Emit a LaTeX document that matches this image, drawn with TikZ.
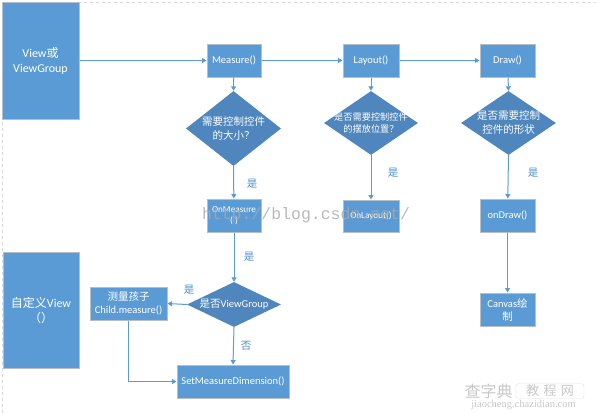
\documentclass[tikz,border=0pt]{standalone}
\usepackage{fontspec}
\setmainfont{Carlito}
\newfontfamily\cjk{Noto Sans CJK SC}
\newfontfamily\wmmono{Liberation Mono}
\newfontfamily\wmserif{Liberation Serif}
\usetikzlibrary{arrows.meta,shapes.geometric}
\newcommand\zh[1]{{\cjk #1}}
\definecolor{boxfill}{HTML}{5B9BD5}
\definecolor{boxline}{HTML}{B6BEC8}
\definecolor{diafill}{HTML}{4E86BD}
\definecolor{flow}{HTML}{5B9BD5}
\definecolor{lbl}{HTML}{4A8FD0}
\definecolor{wmgray}{HTML}{A8A8A8}
\begin{document}
\begin{tikzpicture}[x=1pt,y=-1pt,
  box/.style={draw=boxline, line width=1pt, fill=boxfill, text=white, inner sep=0pt,
    align=center, font=\fontsize{10.5}{13}\selectfont},
  small/.style={font=\fontsize{9.2}{11}\selectfont},
  big/.style={font=\fontsize{12}{15}\selectfont},
  dia/.style={diamond, fill=diafill, inner sep=0pt},
  dtext/.style={text=white, align=center, inner sep=0pt, font=\cjk\fontsize{10.5}{14}\selectfont},
  flowline/.style={draw=flow, line width=1pt, -{Triangle[length=4.5pt,width=5pt]}},
  lab/.style={text=lbl, inner sep=0pt, font=\cjk\fontsize{10.5}{12}\selectfont},
]
\useasboundingbox (0,0) rectangle (596,413);
\draw[black!15, dashed, line width=0.8pt] (2.5,413) -- (2.5,2.5) -- (596,2.5);

% top row
\node[box, big, minimum width=77pt, minimum height=117pt] (vg) at (40.5,60.5) {View\zh{或}\\ViewGroup};
\node[box, minimum width=54pt, minimum height=33pt] (meas) at (234,60.5) {Measure()};
\node[box, minimum width=56pt, minimum height=33pt] (lay) at (371,60.5) {Layout()};
\node[box, minimum width=55pt, minimum height=33pt] (drw) at (507.5,60.5) {Draw()};

% diamonds
\node[dia, minimum width=95pt, minimum height=75pt] (d1) at (233.5,128.5) {};
\node[dtext] (d1t) at (d1) {需要控制控件\\的大小？};
\node[dia, minimum width=94pt, minimum height=64pt] (d2) at (371,123) {};
\node[dtext, font=\cjk\fontsize{9.2}{12.5}\selectfont] (d2t) at (d2) {是否需要控制控件\\的摆放位置？};
\node[dia, minimum width=95pt, minimum height=64pt] (d3) at (508.5,123) {};
\node[dtext] (d3t) at (d3) {是否需要控制\\控件的形状};

% second row
\node[box, small, minimum width=54pt, minimum height=33pt] (onm) at (234,215.5) {OnMeasure\\( )};
\node[box, small, minimum width=56pt, minimum height=32pt] (onl) at (371,216) {OnLayout()};
\node[box, minimum width=55pt, minimum height=33pt] (ond) at (507.5,215.5) {onDraw()};
\node[box, minimum width=55pt, minimum height=33pt] (cv) at (507.5,309.5) {Canvas\zh{绘}\\\zh{制}};

% bottom-left
\node[box, big, minimum width=76pt, minimum height=116pt] (cust) at (41,310) {\zh{自定义}View\\\zh{（）}};
\node[box, minimum width=77pt, minimum height=33pt] (child) at (128.5,303.5) {\zh{测量孩子}\\Child.measure()};
\node[dia, minimum width=94pt, minimum height=45pt] (d4) at (234,304.5) {};
\node[dtext, font=\fontsize{10.5}{14}\selectfont] (d4t) at (d4) {\zh{是否}ViewGroup};
\node[box, minimum width=112pt, minimum height=33pt] (setm) at (233,381.5) {SetMeasureDimension()};

% connectors
\draw[flowline] (vg.east |- meas.west) -- (meas.west);
\draw[flowline] (meas) -- (lay);
\draw[flowline] (lay) -- (drw);
\draw[flowline] (meas) -- (d1.north);
\draw[flowline] (lay) -- (d2.north);
\draw[flowline] (drw) -- (d3.north);
\draw[flowline] (d1.south) -- (onm);
\draw[flowline] (d2.south) -- (onl);
\draw[flowline] (d3.south) -- (ond);
\draw[flowline] (ond) -- (cv);
\draw[flowline] (onm) -- (d4.north);
\draw[flowline] (d4.west) -- (child.east);
\draw[flowline] (d4.south) -- (setm.north);
\draw[flowline] (child.south) |- (setm.west);

% edge labels
\node[lab] (l1) at (252,184) {是};
\node[lab] (l2) at (393,173) {是};
\node[lab] (l3) at (533,173) {是};
\node[lab] (l4) at (249,257) {是};
\node[lab] (l5) at (189,290) {是};
\node[lab] (l6) at (246,346) {否};

% watermarks
\node[text=wmgray, opacity=0.8, inner sep=0pt, font=\wmmono\fontsize{16.5}{18}\selectfont] (wm1) at (306,215) {http://blog.csdn.net/};
\node[text=black!22, inner sep=0pt, font=\cjk\fontsize{16}{18}\selectfont] (wm2) at (488.5,391) {查字典};
\node[draw=black!12, rounded corners=3pt, text=black!22, inner sep=1.5pt, minimum width=68pt, font=\cjk\fontsize{13}{15}\selectfont] (wm3) at (550,391) {教\,\,程\,\,网};
\node[text=black!22, inner sep=0pt, font=\wmserif\fontsize{10.5}{12}\selectfont] (wm4) at (523.5,405) {jiaocheng.chazidian.com};
\end{tikzpicture}
\end{document}
